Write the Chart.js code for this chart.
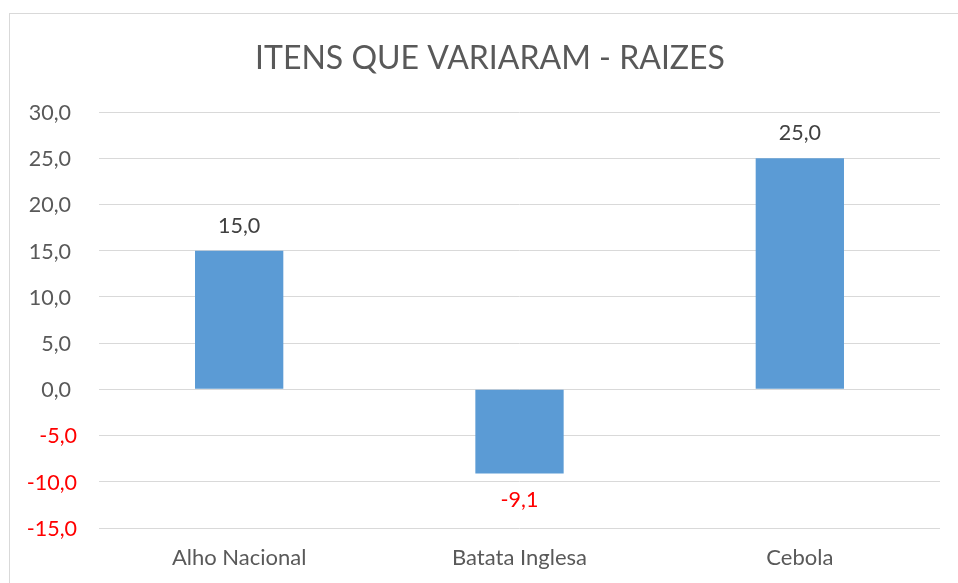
<!DOCTYPE html>
<html>
<head>
<meta charset="utf-8">
<script src="https://cdn.jsdelivr.net/npm/chart.js@4"></script>
<style>
  html, body { margin: 0; padding: 0; background: #fff; overflow: hidden; }
  #wrap { position: relative; width: 958px; height: 583px; }
  #frame { position: absolute; left: 9px; top: 13px; width: 960px; height: 600px; border: 1px solid #d9d9d9; box-sizing: border-box; }
  canvas { position: absolute; left: 0; top: 0; }
</style>
</head>
<body>
<div id="wrap">
  <div id="frame"></div>
  <canvas id="c" width="958" height="583"></canvas>
</div>
<script>
const title = "ITENS QUE VARIARAM - RAIZES";
const categories = ["Alho Nacional", "Batata Inglesa", "Cebola"];
const values = [15.0, -9.1, 25.0];
const yMin = -15, yMax = 30, yStep = 5;

const FONT = "Lato, 'Open Sans', sans-serif";
const fmt = v => Number(v).toFixed(1).replace('.', ',');

const overlay = {
  id: 'overlay',
  afterDatasetsDraw(chart) {
    const ctx = chart.ctx;
    ctx.save();
    ctx.font = "32px " + FONT;
    ctx.fillStyle = "#595959";
    ctx.textAlign = "center";
    ctx.textBaseline = "middle";
    ctx.fillText(title, 490, 59);

    // y tick labels from the library's own scale
    const ys = chart.scales.y;
    ctx.font = "21.5px " + FONT;
    ctx.textAlign = "right";
    ys.ticks.forEach(t => {
      const y = ys.getPixelForValue(t.value);
      const neg = t.value < 0;
      ctx.fillStyle = neg ? "#ff0000" : "#595959";
      ctx.fillText(fmt(t.value), neg ? 77 : 71, y + 1);
    });

    ctx.textAlign = "center";
    const meta = chart.getDatasetMeta(0);
    meta.data.forEach((bar, i) => {
      const v = values[i];
      ctx.fillStyle = v < 0 ? "#ff0000" : "#404040";
      const y = v < 0 ? bar.y + 27 : bar.y - 25;
      ctx.fillText(fmt(v), bar.x, y);
    });
    ctx.restore();
  }
};

new Chart(document.getElementById('c'), {
  type: 'bar',
  data: {
    labels: categories,
    datasets: [{
      data: values,
      backgroundColor: '#5B9BD5',
      borderWidth: 0,
      barPercentage: 0.63,
      categoryPercentage: 0.5
    }]
  },
  options: {
    responsive: false,
    animation: false,
    events: [],
    layout: { padding: { top: 112, right: 18, left: 0, bottom: 0 } },
    plugins: { legend: { display: false }, title: { display: false }, tooltip: { enabled: false } },
    scales: {
      x: {
        grid: { display: false, drawTicks: false },
        border: { display: false },
        ticks: { color: '#595959', font: { family: FONT, size: 22 }, padding: 17 },
        afterFit(s) { s.height = 55; }
      },
      y: {
        min: yMin, max: yMax,
        grid: { color: '#d9d9d9', lineWidth: 1, drawTicks: false },
        border: { display: false },
        ticks: {
          stepSize: yStep,
          display: false
        },
        afterFit(s) { s.width = 99; }
      }
    }
  },
  plugins: [overlay]
});
</script>
</body>
</html>
